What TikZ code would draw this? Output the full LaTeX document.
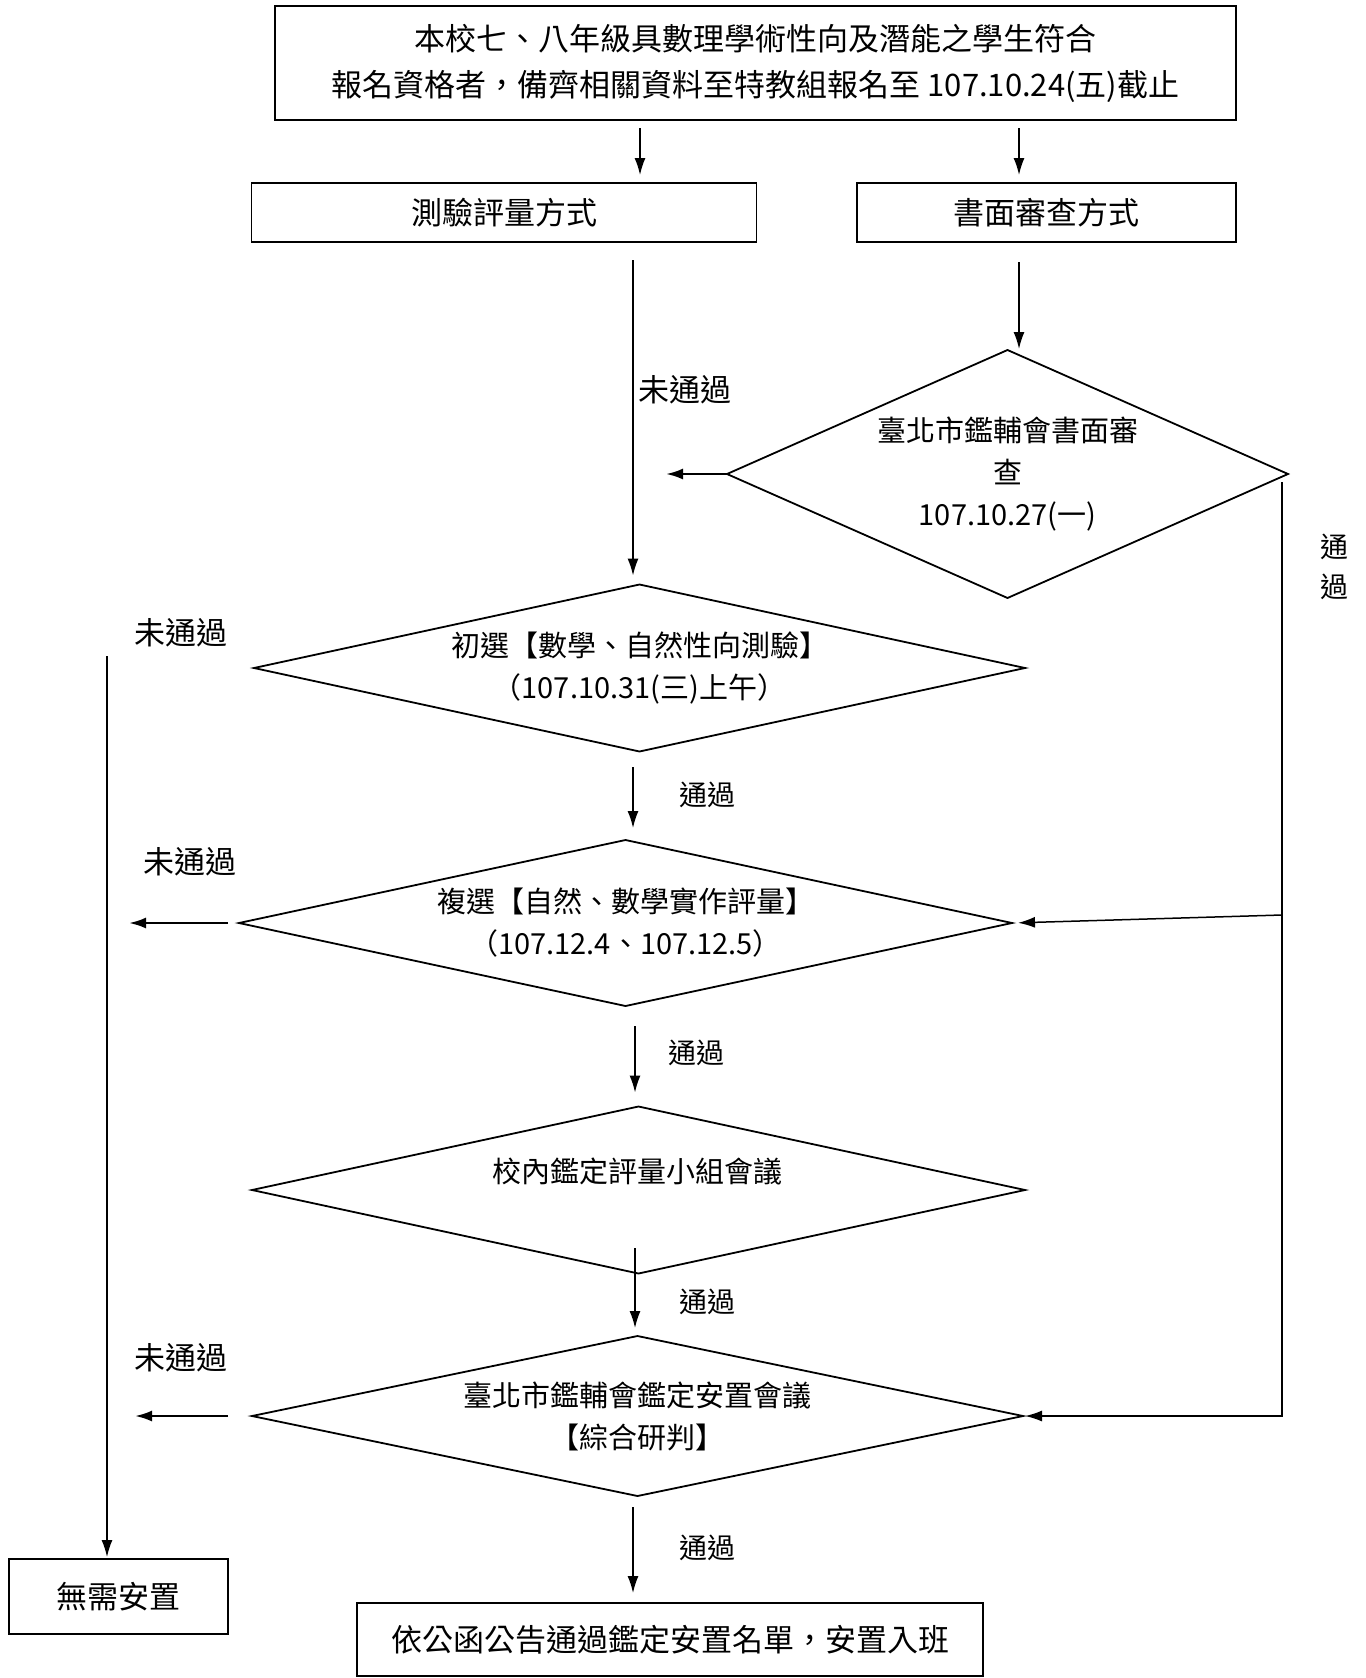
\documentclass[tikz,border=0pt]{standalone}
\usepackage{fontspec}
\setmainfont{Noto Sans CJK TC}
\usetikzlibrary{arrows.meta,shapes.geometric,calc}

\begin{document}
\begin{tikzpicture}[
  x=1pt, y=-1pt,
  box/.style={draw, line width=1.8pt, inner sep=0pt, outer sep=0pt, align=center,
    font=\fontsize{31}{46}\selectfont},
  dia/.style={draw, diamond, line width=1.8pt, inner sep=0pt, outer sep=0pt, align=center,
    font=\fontsize{29}{42}\selectfont},
  lab/.style={inner sep=0pt, align=center, font=\fontsize{31}{40}\selectfont},
  pass/.style={inner sep=0pt, align=center, font=\fontsize{28}{40}\selectfont},
  arr/.style={line width=1.5pt, -{Latex[length=17pt,width=11pt]}},
  thk/.style={arr, line width=2.4pt}
  ]
  \useasboundingbox (0,0) rectangle (1365,1678);
  \node[box, minimum width=961pt, minimum height=114pt] (reg) at (755.5,63)
    {本校七、八年級具數理學術性向及潛能之學生符合\\報名資格者，備齊相關資料至特教組報名至 107.10.24(五)截止};
  \node[box, minimum width=505pt, minimum height=59pt] (tst) at (504,212.5) {測驗評量方式};
  \node[box, minimum width=379pt, minimum height=59pt] (doc) at (1046.5,212.5) {書面審查方式};
  \node[dia, aspect=2.26, minimum width=561pt, minimum height=248pt] (dr) at (1007.5,474)
    {臺北市鑑輔會書面審\\查\\107.10.27(一)};
  \node[dia, aspect=4.6, minimum width=771pt, minimum height=167pt] (pre) at (639.5,668)
    {初選【數學、自然性向測驗】\\（107.10.31(三)上午）};
  \node[dia, aspect=4.65, minimum width=773pt, minimum height=166pt] (sec) at (625.5,923)
    {複選【自然、數學實作評量】\\（107.12.4、107.12.5）};
  \node[dia, aspect=4.6, minimum width=773pt, minimum height=167pt] (sch) at (638.5,1190) {};
  \node[dia, draw=none] (schtxt) at (637.5,1171) {校內鑑定評量小組會議};
  \node[dia, aspect=4.8, minimum width=771pt, minimum height=160pt] (city) at (637.5,1416)
    {臺北市鑑輔會鑑定安置會議\\【綜合研判】};
  \node[box, minimum width=219pt, minimum height=75pt] (none) at (118.5,1596.5) {無需安置};
  \node[box, minimum width=626pt, minimum height=73pt] (fin) at (670,1639.5)
    {依公函公告通過鑑定安置名單，安置入班};

  \node[lab] (n1) at (685,390) {未通過};
  \node[lab] (n2) at (181,633) {未通過};
  \node[lab] (n3) at (190,862) {未通過};
  \node[lab] (n4) at (181,1358) {未通過};
  \node[pass] (p1) at (707,795) {通過};
  \node[pass] (p2) at (696,1053) {通過};
  \node[pass] (p3) at (707,1302) {通過};
  \node[pass] (p4) at (707,1548) {通過};
  \node[pass] (p5) at (1334,567) {通\\過};

  \coordinate (s1) at (640,128);
  \coordinate (s2) at (1019,128);
  \coordinate (s3) at (633,260);
  \coordinate (s4) at (1019,262);
  \coordinate (s6) at (633,767);
  \coordinate (s9) at (635,1026);
  \coordinate (s10) at (635,1248);
  \coordinate (s14) at (633,1507);
  \coordinate (rt) at (1282,482);
  \coordinate (rm) at (1282,915);
  \coordinate (lt) at (107,656);

  \draw[arr, shorten >=8pt] (s1) -- (s1 |- tst.north);
  \draw[arr, shorten >=8pt] (s2) -- (s2 |- doc.north);
  \draw[arr, shorten >=9pt] (s3) -- (s3 |- pre.north);
  \draw[arr, shorten >=1pt] (s4) -- (s4 |- dr.north);
  \draw[thk] (dr.west) -- ++(-61,0);
  \draw[arr, shorten >=12pt] (s6) -- (s6 |- sec.north);
  \draw[thk] ([xshift=-11pt]sec.west) -- ++(-99,0);
  \draw[arr, shorten >=6pt] (rm) -- (sec.east);
  \draw[arr, shorten >=14pt] (s9) -- (s9 |- sch.north);
  \draw[arr, shorten >=8pt] (s10) -- (s10 |- city.north);
  \draw[thk] ([xshift=-24pt]city.west) -- ++(-93,0);
  \draw[arr, shorten >=2pt] (rt) |- (city.east);
  \draw[arr, shorten >=2pt] (lt) -- (lt |- none.north);
  \draw[arr, shorten >=10pt] (s14) -- (s14 |- fin.north);
\end{tikzpicture}
\end{document}
